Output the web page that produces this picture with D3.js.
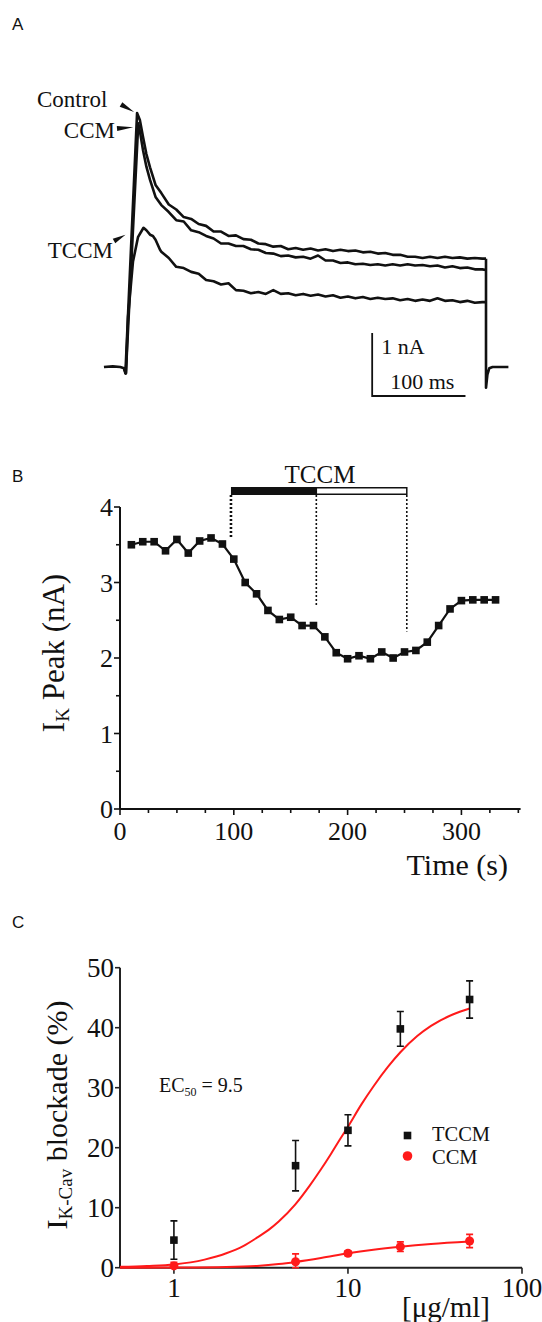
<!DOCTYPE html>
<html><head><meta charset="utf-8">
<script src="https://cdnjs.cloudflare.com/ajax/libs/d3/7.8.5/d3.min.js"></script>
<style>body{margin:0;background:#fff}svg{display:block}text{font-family:"Liberation Serif","Times New Roman",serif;fill:#111}</style>
</head><body><svg id="c" width="542" height="1322"></svg>
<script>
// ---------- Panel A: current traces [time ms, current nA] ----------
const controlTrace = [[-21.5,0],[-12,0.01],[-4,0],[0,-0.02],[1.5,-0.1],[14,4.03],[17,3.92],[20.4,3.65],[24,3.38],[27.9,3.17],[33.8,2.89],
 [40,2.76],[48,2.58],[56,2.50],[64,2.38],[72,2.35],[80,2.27],[88,2.24],[96,2.15],[104,2.15],[112,2.08],[120,2.09],[128,2.03],[136,2.02],[144,1.96],[152,1.95],[160,1.91],[168,1.92],[176,1.87],[184,1.89],[192,1.86],[200,1.88],[208,1.85],[216,1.87],[224,1.84],[232,1.86],[240,1.84],[248,1.85],[256,1.82],[264,1.83],[272,1.80],[280,1.81],[288,1.78],[296,1.78],[304,1.75],[312,1.75],[320,1.73],[328,1.75],[336,1.73],[344,1.75],[352,1.73],[360,1.74],[368,1.72],[376,1.73],[384,1.72],[388,1.72]];
const ccmTrace = [[0,-0.02],[2,-0.1],[15.3,3.87],[17.5,3.70],[20.4,3.44],[24,3.18],[27.9,2.97],[33.8,2.70],
 [40,2.57],[48,2.46],[56,2.33],[64,2.31],[72,2.17],[80,2.14],[88,2.08],[96,2.04],[104,1.96],[112,1.96],[120,1.92],[128,1.92],[136,1.87],[144,1.86],[152,1.81],[160,1.80],[168,1.76],[176,1.77],[184,1.74],[192,1.75],[200,1.72],[208,1.77],[216,1.69],[224,1.69],[232,1.65],[240,1.66],[248,1.63],[256,1.64],[264,1.62],[272,1.63],[280,1.61],[288,1.63],[296,1.61],[304,1.63],[312,1.61],[320,1.62],[328,1.60],[336,1.61],[344,1.58],[352,1.60],[360,1.57],[368,1.58],[376,1.55],[384,1.55],[388,1.54]];
const tccmTrace = [[0,-0.02],[2.1,-0.1],[4.3,0.79],[9.6,1.67],[15,2.06],[20.9,2.21],[24,2.17],[27.9,2.10],[31,2.08],[33.8,2.02],[38.6,1.86],
 [40,1.83],[48,1.73],[56,1.59],[64,1.57],[72,1.51],[80,1.48],[88,1.38],[96,1.36],[104,1.31],[112,1.33],[120,1.22],[128,1.21],[136,1.17],[144,1.19],[152,1.16],[160,1.22],[168,1.16],[176,1.17],[184,1.14],[192,1.16],[200,1.13],[208,1.15],[216,1.12],[224,1.14],[232,1.10],[240,1.12],[248,1.09],[256,1.11],[264,1.08],[272,1.10],[280,1.08],[288,1.09],[296,1.06],[304,1.08],[312,1.05],[320,1.07],[328,1.05],[336,1.09],[344,1.05],[352,1.06],[360,1.03],[368,1.05],[376,1.02],[384,1.03],[388,1.03]];
const tailTrace = [[388,1.72],[388,-0.33],[389.5,-0.12],[391.5,-0.02],[395,0],[412,0]];
const scaleBar = {t0:266, dt:100, i0:-0.46, di:1};

// ---------- Panel B: IK peak vs time ----------
const timeB = [10,20,30,40,50,60,70,80,90,100,110,120,130,140,150,160,170,180,190,200,210,220,230,240,250,260,270,280,290,300,310,320,330];
const peakB = [3.50,3.54,3.54,3.42,3.57,3.39,3.55,3.59,3.51,3.31,3.00,2.85,2.63,2.51,2.54,2.43,2.43,2.28,2.07,1.99,2.03,1.99,2.08,2.00,2.08,2.10,2.21,2.43,2.65,2.76,2.77,2.77,2.77];
const tccmBar = [97.5,172.5,252];
const yTicksB = [0,1,2,3,4];
const xTicksB = [0,100,200,300];

// ---------- Panel C: dose response ----------
const conc = [1,5,10,20,50];
const tccmMean = [4.6,17.0,22.9,39.8,44.7];
const tccmErr = [3.2,4.2,2.6,2.9,3.1];
const ccmMean = [0.3,1.0,2.4,3.5,4.45];
const ccmErr = [0.6,1.3,0.4,0.8,1.1];
const tccmFit = [[0.49,0.15],[0.7,0.3],[1,0.55],[1.5,1.35],[2,2.4],[2.5,3.6],[3,5.0],[3.5,6.3],[4,7.7],[5,10.6],[6,13.6],[7,16.4],[8,19.0],[9,21.4],[10,23.5],[12,27.3],[14,30.2],[17,33.5],[20,35.9],[25,38.6],[30,40.3],[40,42.2],[50,43.2]];
const ccmFit = [[0.49,0],[1,0.03],[2,0.12],[3,0.3],[4,0.6],[5,0.95],[7,1.6],[10,2.4],[14,3.0],[20,3.5],[30,3.95],[50,4.35]];
const yTicksC = [0,10,20,30,40,50];
const xTicksC = [1,10,100];

const svg = d3.select("#c");

// panel letters
[["A",30],["B",482],["C",928]].forEach(([l,y])=>{
  svg.append("text").attr("x",12).attr("y",y).style("font-family",'"Liberation Sans",Arial,sans-serif').style("font-size","17px").text(l);
});

// ===== Panel A =====
const xA = d3.scaleLinear().domain([0,100]).range([124,217.3]);
const yA = d3.scaleLinear().domain([0,1]).range([367,304]);
const lineA = d3.line().x(d=>xA(d[0])).y(d=>yA(d[1]));
const gA = svg.append("g");
[controlTrace, ccmTrace, tccmTrace, tailTrace].forEach(tr=>{
  gA.append("path").attr("d",lineA(tr)).attr("fill","none").attr("stroke","#111").attr("stroke-width",2.6).attr("stroke-linejoin","round");
});
// scale bar
gA.append("path").attr("d",`M${xA(scaleBar.t0)},${yA(scaleBar.i0+scaleBar.di)}V${yA(scaleBar.i0)}H${xA(scaleBar.t0+scaleBar.dt)}`)
  .attr("fill","none").attr("stroke","#111").attr("stroke-width",1.8);
gA.append("text").attr("x",xA(scaleBar.t0)+9).attr("y",354).style("font-size","22px").text("1 nA");
gA.append("text").attr("x",xA(scaleBar.t0)+18).attr("y",389).style("font-size","22px").text("100 ms");
// labels + arrows
gA.append("text").attr("x",37).attr("y",107).style("font-size","23px").text("Control");
gA.append("text").attr("x",115).attr("y",138).attr("text-anchor","end").style("font-size","23px").text("CCM");
gA.append("text").attr("x",113).attr("y",258).attr("text-anchor","end").style("font-size","23px").text("TCCM");
function arrow(x1,y1,x2,y2,w){
  const a=Math.atan2(y2-y1,x2-x1), px=-Math.sin(a)*w, py=Math.cos(a)*w;
  gA.append("path").attr("d",`M${x2},${y2}L${x1+px},${y1+py}L${x1-px},${y1-py}Z`).attr("fill","#111");
}
const cPk = controlTrace[5], mPk = ccmTrace[2], tPk = tccmTrace[5];
arrow(121,104.5, xA(cPk[0])-3, yA(cPk[1])-1, 2.6);
arrow(117,128.5, xA(mPk[0])-5, yA(mPk[1])+4, 2.6);
arrow(114,241, xA(tPk[0])-18, yA(tPk[1])+7, 2.6);

// ===== Panel B =====
const xB = d3.scaleLinear().domain([0,352]).range([120,520.6]);
const yB = d3.scaleLinear().domain([0,4]).range([809,507]);
const gB = svg.append("g");
gB.append("line").attr("x1",xB(0)).attr("x2",xB(0)).attr("y1",yB(0)).attr("y2",yB(4)).attr("stroke","#111").attr("stroke-width",2);
gB.append("line").attr("x1",xB(0)).attr("x2",xB(352)).attr("y1",yB(0)).attr("y2",yB(0)).attr("stroke","#111").attr("stroke-width",2);
d3.range(0,4.01,0.5).forEach(v=>{
  const major = Math.abs(v-Math.round(v))<1e-6;
  gB.append("line").attr("x1",xB(0)).attr("x2",xB(0)-(major?6:4)).attr("y1",yB(v)).attr("y2",yB(v)).attr("stroke","#111").attr("stroke-width",1.6);
});
d3.range(0,351,25).forEach(v=>{
  const major = v%100===0;
  gB.append("line").attr("x1",xB(v)).attr("x2",xB(v)).attr("y1",yB(0)).attr("y2",yB(0)+(major?6:4)).attr("stroke","#111").attr("stroke-width",1.6);
});
yTicksB.forEach(v=>gB.append("text").attr("x",xB(0)-7).attr("y",yB(v)+9).attr("text-anchor","end").style("font-size","26px").text(v));
xTicksB.forEach(v=>gB.append("text").attr("x",xB(v)).attr("y",840).attr("text-anchor","middle").style("font-size","26px").text(v));
gB.append("text").attr("x",508).attr("y",875).attr("text-anchor","end").style("font-size","30px").text("Time (s)");
const yl = gB.append("text").attr("transform","translate(64,653) rotate(-90)").attr("text-anchor","middle").style("font-size","31px");
yl.append("tspan").text("I");
yl.append("tspan").attr("dy",5).style("font-size","19px").text("K");
yl.append("tspan").attr("dy",-5).text(" Peak (nA)");
// bar
gB.append("rect").attr("x",xB(tccmBar[0])).attr("y",487).attr("width",xB(tccmBar[1])-xB(tccmBar[0])).attr("height",8).attr("fill","#111");
gB.append("rect").attr("x",xB(tccmBar[1])).attr("y",487.75).attr("width",xB(tccmBar[2])-xB(tccmBar[1])).attr("height",6.5).attr("fill","#fff").attr("stroke","#111").attr("stroke-width",1.5);
gB.append("text").attr("x",320).attr("y",483).attr("text-anchor","middle").style("font-size","25px").text("TCCM");
[[tccmBar[0],3.6,2.6],[tccmBar[1],2.7,1.6],[tccmBar[2],2.35,1.6]].forEach(([t,v,w])=>{
  gB.append("line").attr("x1",xB(t)).attr("x2",xB(t)).attr("y1",495).attr("y2",yB(v)).attr("stroke","#111").attr("stroke-width",w).attr("stroke-dasharray","2,2");
});
const ptsB = timeB.map((t,i)=>[t,peakB[i]]);
gB.append("path").attr("d",d3.line().x(d=>xB(d[0])).y(d=>yB(d[1]))(ptsB)).attr("fill","none").attr("stroke","#111").attr("stroke-width",2.2);
gB.selectAll("rect.m").data(ptsB).enter().append("rect").attr("class","m")
  .attr("x",d=>xB(d[0])-3.8).attr("y",d=>yB(d[1])-3.8).attr("width",7.6).attr("height",7.6).attr("fill","#111");

// ===== Panel C =====
const xC = d3.scaleLog().domain([0.49,100]).range([120,522]);
const yC = d3.scaleLinear().domain([0,50]).range([1267.7,967.7]);
const gC = svg.append("g");
gC.append("line").attr("x1",xC(0.49)).attr("x2",xC(0.49)).attr("y1",yC(0)).attr("y2",yC(50)).attr("stroke","#222").attr("stroke-width",2);
gC.append("line").attr("x1",xC(0.49)).attr("x2",xC(100)).attr("y1",yC(0)).attr("y2",yC(0)).attr("stroke","#222").attr("stroke-width",2);
yTicksC.forEach(v=>{
  gC.append("line").attr("x1",xC(0.49)).attr("x2",xC(0.49)-5).attr("y1",yC(v)).attr("y2",yC(v)).attr("stroke","#222").attr("stroke-width",1.6);
  gC.append("text").attr("x",xC(0.49)-6).attr("y",yC(v)+9).attr("text-anchor","end").style("font-size","27px").text(v);
});
xTicksC.forEach(v=>{
  gC.append("line").attr("x1",xC(v)).attr("x2",xC(v)).attr("y1",yC(0)).attr("y2",yC(0)+6).attr("stroke","#222").attr("stroke-width",1.6);
  gC.append("text").attr("x",xC(v)).attr("y",1297).attr("text-anchor","middle").style("font-size","27px").text(v);
});
gC.append("text").attr("x",446).attr("y",1317).attr("text-anchor","middle").style("font-size","29px").text("[\u03bcg/ml]");
const ylc = gC.append("text").attr("transform","translate(67,1115) rotate(-90)").attr("text-anchor","middle").style("font-size","30px");
ylc.append("tspan").text("I");
ylc.append("tspan").attr("dy",5).style("font-size","19px").text("K-Cav");
ylc.append("tspan").attr("dy",-5).text(" blockade (%)");
const ec = gC.append("text").attr("x",159).attr("y",1092).style("font-size","20px");
ec.append("tspan").text("EC");
ec.append("tspan").attr("dy",4).style("font-size","12px").text("50");
ec.append("tspan").attr("dy",-4).text(" = 9.5");
const red = "#ff1a1a";
const lineC = d3.line().x(d=>xC(d[0])).y(d=>yC(d[1])).curve(d3.curveMonotoneX);
gC.append("path").attr("d",lineC(ccmFit)).attr("fill","none").attr("stroke",red).attr("stroke-width",2);
gC.append("path").attr("d",lineC(tccmFit)).attr("fill","none").attr("stroke",red).attr("stroke-width",2);
function errBars(means, errs, col){
  conc.forEach((c,i)=>{
    const x=xC(c), y1=yC(means[i]+errs[i]), y2=yC(Math.max(0,means[i]-errs[i]));
    gC.append("path").attr("d",`M${x},${y1}V${y2}M${x-3.5},${y1}H${x+3.5}M${x-3.5},${y2}H${x+3.5}`).attr("stroke",col).attr("stroke-width",1.6).attr("fill","none");
  });
}
errBars(tccmMean,tccmErr,"#111");
errBars(ccmMean,ccmErr,red);
conc.forEach((c,i)=>{
  gC.append("rect").attr("x",xC(c)-3.8).attr("y",yC(tccmMean[i])-3.8).attr("width",7.6).attr("height",7.6).attr("fill","#111");
  gC.append("circle").attr("cx",xC(c)).attr("cy",yC(ccmMean[i])).attr("r",4.5).attr("fill",red);
});
// legend
gC.append("rect").attr("x",407.5-3.8).attr("y",1135.5-3.8).attr("width",7.6).attr("height",7.6).attr("fill","#111");
gC.append("text").attr("x",432).attr("y",1141).style("font-size","20.5px").text("TCCM");
gC.append("circle").attr("cx",407.5).attr("cy",1156).attr("r",4.8).attr("fill",red);
gC.append("text").attr("x",432).attr("y",1164).style("font-size","20.5px").text("CCM");
</script></body></html>
